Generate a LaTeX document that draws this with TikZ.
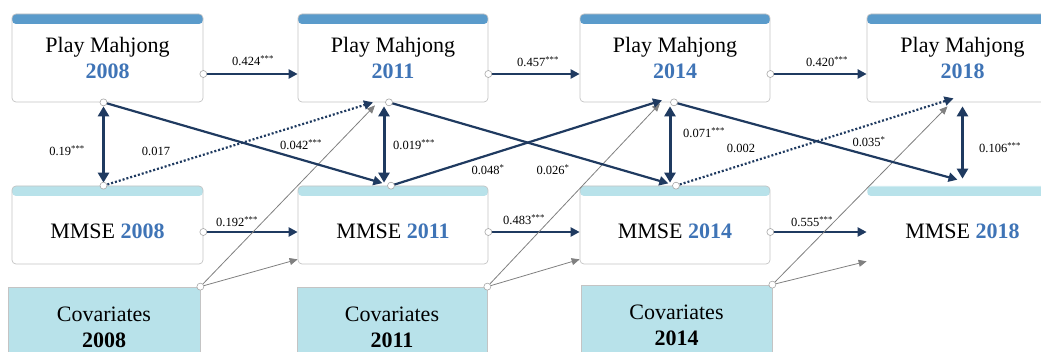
\documentclass[tikz,border=0pt]{standalone}
\usepackage{fontspec}
\setmainfont{Liberation Serif}
\usepackage{tikz}
\usetikzlibrary{arrows.meta}

\definecolor{barblue}{HTML}{5A9BCB}
\definecolor{lightcyan}{HTML}{B8E2EA}
\definecolor{yearblue}{HTML}{3F74B6}
\definecolor{navy}{HTML}{1F3A60}
\definecolor{boxgray}{HTML}{C4C4C4}

\tikzset{
  pmbox/.style={draw=boxgray, line width=0.7pt, fill=white, rounded corners=4pt, minimum width=191pt,
    minimum height=88pt, align=center, font=\fontsize{22}{26}\selectfont,
    path picture={\fill[barblue] (path picture bounding box.north west)
      rectangle ([yshift=-10pt]path picture bounding box.north east);}},
  mmbox/.style={draw=boxgray, line width=0.7pt, fill=white, rounded corners=4pt, minimum width=191pt,
    minimum height=78pt, text height=30pt, text depth=2pt, font=\fontsize{22}{26}\selectfont,
    path picture={\fill[lightcyan] (path picture bounding box.north west)
      rectangle ([yshift=-10pt]path picture bounding box.north east);}},
  covbox/.style={draw=boxgray, line width=0.7pt, fill=lightcyan, minimum width=192pt, minimum height=80pt,
    align=center, font=\fontsize{22}{26}\selectfont},
  coef/.style={font=\fontsize{12.5}{14}\selectfont, inner sep=1pt},
  link/.style={navy, line width=2.2pt, -{Triangle[length=9pt,width=9pt]}},
  weak/.style={link, dash pattern=on 2pt off 2pt},
  corr/.style={navy, line width=3pt, {Triangle[length=10pt,width=11pt]}-{Triangle[length=10pt,width=11pt]}},
  cov/.style={gray, line width=0.8pt, -{Triangle[length=8pt,width=7pt]}},
  knob/.style={circle, draw=gray!70, fill=white, inner sep=0pt, minimum size=7pt, line width=0.6pt}
}

\begin{document}
\begin{tikzpicture}[x=1pt, y=-1pt]
\useasboundingbox (0,0) rectangle (1041,352);

% Play Mahjong
\node[pmbox] (pm08) at (107.5,58) {Play Mahjong\\\textcolor{yearblue}{\textbf{2008}}};
\node[pmbox, minimum width=190pt] (pm11) at (393,58) {Play Mahjong\\\textcolor{yearblue}{\textbf{2011}}};
\node[pmbox, minimum width=190pt] (pm14) at (675,58) {Play Mahjong\\\textcolor{yearblue}{\textbf{2014}}};
\node[pmbox] (pm18) at (962.5,58) {Play Mahjong\\\textcolor{yearblue}{\textbf{2018}}};

% MMSE
\node[mmbox] (mm08) at (107.5,225) {MMSE \textcolor{yearblue}{\textbf{2008}}};
\node[mmbox, minimum width=190pt] (mm11) at (393,225) {MMSE \textcolor{yearblue}{\textbf{2011}}};
\node[mmbox, minimum width=190pt] (mm14) at (675,225) {MMSE \textcolor{yearblue}{\textbf{2014}}};
\node[mmbox, draw=white] (mm18) at (962.5,225) {MMSE \textcolor{yearblue}{\textbf{2018}}};

% covariates
\node[covbox] (cv08) at (104,327) {Covariates\\\textbf{2008}};
\node[covbox, minimum width=190pt] (cv11) at (392,327) {Covariates\\\textbf{2011}};
\node[covbox, minimum width=191pt] (cv14) at (676.5,325) {Covariates\\\textbf{2014}};

\coordinate (pm08s) at ([xshift=-4pt]pm08.south);
\coordinate (pm11s) at ([xshift=-4pt]pm11.south);
\coordinate (pm14s) at ([xshift=-1pt]pm14.south);
\coordinate (mm08n) at ([xshift=-4pt]mm08.north);
\coordinate (mm11n) at ([xshift=-2pt]mm11.north);
\coordinate (mm14n) at ([xshift=1pt]mm14.north);

% stability paths
\draw[link] ([yshift=-16pt]pm08.east) -- ([yshift=-16pt]pm11.west);
\draw[link] ([yshift=-16pt]pm11.east) -- ([yshift=-16pt]pm14.west);
\draw[link] ([yshift=-16pt]pm14.east) -- ([yshift=-16pt]pm18.west);
\draw[link] ([yshift=-7pt]mm08.east) -- ([yshift=-7pt]mm11.west);
\draw[link] ([yshift=-7pt]mm11.east) -- ([yshift=-7pt]mm14.west);
\draw[link] ([yshift=-7pt]mm14.east) -- ([yshift=-7pt]mm18.west);

% covariates
\draw[cov] (cv08.north east) -- ([yshift=5pt]mm11.south west);
\draw[cov] (cv08.north east) -- ([xshift=-18pt,yshift=-3pt]pm11.south);
\draw[cov] (cv11.north east) -- ([yshift=5pt]mm14.south west);
\draw[cov] (cv11.north east) -- ([xshift=-15pt,yshift=-1pt]pm14.south);
\draw[cov] (cv14.north east) -- ([yshift=3pt]mm18.south west);
\draw[cov] (cv14.north east) -- ([xshift=-15pt,yshift=-4pt]pm18.south);

% cross-lagged paths
\draw[link, shorten >=9pt] (pm08s) -- (mm11n);
\draw[weak] (mm08n) -- ([xshift=-16pt]pm11s);
\draw[link, shorten >=8pt] (pm11s) -- (mm14n);
\draw[link] (mm11n) -- ([xshift=-12pt,yshift=2pt]pm14s);
\draw[weak] (mm14n) -- ([xshift=-9pt,yshift=4pt]pm18.south);
\draw[link] (pm14s) -- ([xshift=-5pt,yshift=6pt]mm18.north);

% correlations
\draw[corr] ([yshift=-4pt]pm08s) -- ([yshift=3pt]mm08n);
\draw[corr] ([xshift=-5pt,yshift=-4pt]pm11s) -- ([xshift=-7pt,yshift=3pt]mm11n);
\draw[corr] ([xshift=-4pt,yshift=-4pt]pm14s) -- ([xshift=-6pt,yshift=3pt]mm14n);
\draw[corr] ([yshift=-4pt]pm18.south) -- ([yshift=7pt]mm18.north);

% start circles
\node[knob] (k1) at ([yshift=-16pt]pm08.east) {};
\node[knob] (k2) at ([yshift=-16pt]pm11.east) {};
\node[knob] (k3) at ([yshift=-16pt]pm14.east) {};
\node[knob] (k4) at ([yshift=-7pt]mm08.east) {};
\node[knob] (k5) at ([yshift=-7pt]mm11.east) {};
\node[knob] (k6) at ([yshift=-7pt]mm14.east) {};
\node[knob] (k7) at (pm08s) {};
\node[knob] (k8) at (pm11s) {};
\node[knob] (k9) at (pm14s) {};
\node[knob] (k10) at (mm08n) {};
\node[knob] (k11) at (mm11n) {};
\node[knob] (k12) at (mm14n) {};
\node[knob] (k13) at (cv08.north east) {};
\node[knob] (k14) at (cv11.north east) {};
\node[knob] (k15) at (cv14.north east) {};

% coefficients
\node[coef] (b1) at (253,61) {0.424\textsuperscript{***}};
\node[coef] (b2) at (538,62) {0.457\textsuperscript{***}};
\node[coef] (b3) at (827,62) {0.420\textsuperscript{***}};
\node[coef] (b4) at (237,222) {0.192\textsuperscript{***}};
\node[coef] (b5) at (524,220) {0.483\textsuperscript{***}};
\node[coef] (b6) at (812,222) {0.555\textsuperscript{***}};
\node[coef] (r1) at (67,151) {0.19\textsuperscript{***}};
\node[coef] (r2) at (414,145) {0.019\textsuperscript{***}};
\node[coef] (r3) at (704,133) {0.071\textsuperscript{***}};
\node[coef] (r4) at (1000,148) {0.106\textsuperscript{***}};
\node[coef] (c1) at (156,151) {0.017};
\node[coef] (c2) at (301,145) {0.042\textsuperscript{***}};
\node[coef] (c3) at (488,170) {0.048\textsuperscript{*}};
\node[coef] (c4) at (553,170) {0.026\textsuperscript{*}};
\node[coef] (c5) at (741,148) {0.002};
\node[coef] (c6) at (869,142) {0.035\textsuperscript{*}};

\end{tikzpicture}
\end{document}
